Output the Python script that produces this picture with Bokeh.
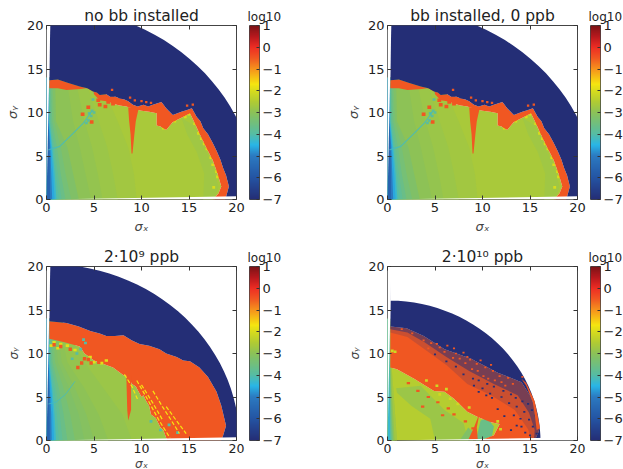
from bokeh.plotting import figure
from bokeh.models import LinearColorMapper, FixedTicker, LinearAxis, Range1d
from bokeh.layouts import column, row
from bokeh.embed import file_html
from bokeh.resources import INLINE
import numpy as np

# colour scale (log10 value -> colour)
SCALE_V = [-7, -6, -5, -4.5, -4, -3, -2.5, -2, -1.7, -1, -0.5, 0, 0.5, 1]
SCALE_R = [36, 36, 44, 41, 86, 140, 178, 216, 246, 247, 241, 238, 185, 123]
SCALE_G = [46, 85, 123, 182, 189, 194, 204, 220, 230, 148, 90, 46, 25, 20]
SCALE_B = [118, 164, 194, 232, 165, 88, 51, 30, 16, 29, 34, 36, 30, 22]
TICKS = [-7, -6, -5, -4, -3, -2, -1, 0, 1]
TITLES = ["no bb installed", "bb installed, 0 ppb", "2·10⁹ ppb", "2·10¹⁰ ppb"]
AXIS_TICKS = [0, 5, 10, 15, 20]
V_NAVY, V_ORANGE = -7, -0.5

# outer radius of the scanned region
ARC_ANGLE = [89, 86, 83, 80, 77, 74, 71, 68, 65, 62, 59, 56, 53, 50, 47, 44, 41, 38, 35, 32, 29, 26, 23, 20, 17, 14, 11, 8, 5, 2, 1]
R_ABOVE = 22.1
R_2E9 = 20.3
R_2E10 = 16.1

# green -> level contours: x position at heights CONT_Y
CONT_Y = [0, 3, 6, 9, 14]
P1_LEVELS = [-2.7, -2.8, -2.9, -3.0, -3.2, -3.4, -3.6, -3.8, -4.0, -4.3, -4.6, -5.0, -5.6]
P1_CONT = [
    [9.5, 9.2, 8.6, 7.5, 5.5],
    [7.5, 7.0, 6.4, 5.5, 4.0],
    [5.9, 5.4, 4.8, 4.0, 3.0],
    [4.7, 4.1, 3.5, 2.8, 2.1],
    [3.4, 2.8, 2.2, 1.0, 0.9],
    [2.6, 2.0, 1.5, 0.8, 0.6],
    [2.0, 1.5, 1.1, 0.6, 0.45],
    [1.6, 1.2, 0.85, 0.45, 0.35],
    [1.3, 1.0, 0.7, 0.35, 0.3],
    [1.05, 0.85, 0.6, 0.3, 0.25],
    [0.85, 0.7, 0.5, 0.25, 0.2],
    [0.6, 0.5, 0.4, 0.2, 0.2],
    [0.38, 0.35, 0.3, 0.2, 0.2],
]
P3_LEVELS = [-2.9, -3.0, -3.1, -3.2, -3.4, -3.6, -3.8, -4.0, -4.3, -4.6, -5.0, -5.6]
P3_CONT = [
    [9.0, 8.0, 6.0, 4.0, 1.5],
    [6.5, 5.5, 4.0, 2.2, 1.2],
    [5.0, 4.2, 3.0, 1.6, 1.0],
    [4.0, 3.4, 2.4, 1.2, 0.8],
    [3.0, 2.5, 1.8, 0.9, 0.6],
    [2.2, 1.8, 1.3, 0.65, 0.45],
    [1.7, 1.4, 1.0, 0.5, 0.35],
    [1.3, 1.1, 0.8, 0.4, 0.3],
    [1.0, 0.85, 0.6, 0.3, 0.25],
    [0.8, 0.7, 0.5, 0.25, 0.2],
    [0.55, 0.5, 0.35, 0.2, 0.2],
    [0.35, 0.32, 0.25, 0.2, 0.2],
]
P4_LEVELS = [-2.7, -3.0, -3.4, -3.8, -4.3]
P4_CONT = [
    [1.0, 0.8, 0.6, 0.4, 0.3],
    [0.75, 0.6, 0.45, 0.35, 0.25],
    [0.6, 0.45, 0.35, 0.3, 0.2],
    [0.45, 0.35, 0.3, 0.25, 0.2],
    [0.3, 0.25, 0.2, 0.2, 0.2],
]

# region boundaries, panels 1 & 2 (left to right)
P1_ORANGE_X = [0.3, 1.2, 2.3, 2.9, 3.5, 4.3, 4.9, 5.3, 5.6, 6.3, 6.7, 7.3, 7.7, 8.2, 8.6, 9.1, 9.6, 10.2, 10.7, 11.2, 12.1, 12.6, 13.3, 14.2, 14.8, 15.3, 15.8, 16.2, 16.5, 17.0, 17.5, 17.9, 18.3, 18.6, 18.9, 19.2, 18.9, 18.8]
P1_ORANGE_Y = [13.7, 13.8, 13.4, 13.2, 13.0, 12.8, 12.4, 12.3, 12.0, 12.1, 11.8, 11.8, 11.6, 11.5, 11.3, 10.9, 10.7, 10.9, 10.7, 10.9, 11.2, 10.5, 9.7, 10.1, 10.3, 10.5, 9.5, 9.0, 8.2, 7.5, 6.5, 5.6, 4.6, 3.6, 2.8, 1.5, 0.3, 0]
P1_GREEN_X = [0.3, 1.2, 2.1, 3.6, 4.9, 5.0, 5.6, 6.3, 7.0, 7.7, 8.4, 9.2, 10.0, 10.8, 11.6, 11.6, 12.0, 12.6, 13.3, 14.2, 15.1, 15.6, 16.1, 16.8, 17.5, 18.0, 18.4, 18.1, 17.5]
P1_GREEN_Y = [12.8, 12.8, 12.6, 12.7, 12.9, 12.1, 11.4, 11.3, 11.0, 10.8, 10.7, 10.4, 10.2, 10.1, 9.9, 8.5, 8.4, 8.0, 8.9, 9.4, 9.9, 8.8, 7.6, 6.0, 4.5, 3.0, 1.5, 0.7, 0]
P1_BAND_X = [14.2, 15.5, 16.6, 17.5, 18.1, 17.7, 16.5, 16.6, 15.8, 14.8]
P1_BAND_Y = [9.4, 8.5, 6.0, 4.0, 1.5, 0, 0, 3.0, 5.5, 7.5]
P1_SPIKE_X = [8.6, 9.7, 9.4, 9.25, 9.05, 8.95, 8.85, 8.7]
P1_SPIKE_Y = [10.6, 10.5, 9.0, 7.5, 5.3, 5.3, 7.5, 9.0]
P1_ORANGE_SPOT_X = [4.4, 3.8, 4.75, 5.6, 5.45, 6.5, 6.9, 7.7, 7.0, 6.2]
P1_ORANGE_SPOT_Y = [10.6, 9.8, 8.9, 10.9, 11.4, 11.2, 12.0, 11.4, 11.0, 10.7]
P1_TEAL_SPOT_X = [4.8, 5.0, 4.7, 4.4, 4.9, 5.1, 4.5, 4.2]
P1_TEAL_SPOT_Y = [10.2, 10.0, 9.6, 9.1, 11.5, 12.3, 9.9, 8.8]
P1_YELLOW_X = [14.6, 15.6, 16.3, 16.9, 17.5, 18.0, 17.6, 12.3, 13.5, 15.0, 16.0, 16.6, 17.3, 17.9]
P1_YELLOW_Y = [9.5, 8.7, 7.0, 5.8, 4.0, 2.6, 1.4, 8.2, 9.0, 9.8, 7.6, 6.4, 4.8, 3.2]
P1_ORANGE_IN_NAVY_X = [6.9, 8.8, 9.3, 10.0, 14.8, 15.4, 11.0, 10.5]
P1_ORANGE_IN_NAVY_Y = [12.6, 11.7, 11.4, 11.3, 10.8, 10.9, 11.1, 11.2]
P1_LINE_X = [0.2, 1.4, 2.8, 3.9, 4.75]
P1_LINE_Y = [5.7, 6.1, 7.6, 8.8, 10.1]

# panel 3
P3_ORANGE_X = [0.3, 2.1, 3.4, 4.6, 5.6, 6.3, 7.2, 8.1, 9.0, 9.8, 10.8, 11.9, 12.6, 13.7, 14.4, 15.1, 16.1, 17.0, 17.9, 18.4, 18.9, 18.6, 18.4]
P3_ORANGE_Y = [13.7, 13.5, 13.1, 12.6, 12.3, 12.0, 12.0, 12.1, 11.5, 11.1, 10.9, 10.5, 10.0, 9.6, 9.2, 9.1, 8.4, 7.3, 5.6, 4.0, 1.7, 0.6, 0]
P3_GREEN_X = [0.3, 1.9, 3.5, 4.0, 5.0, 7.0, 8.1, 8.5, 9.0, 9.4, 10.0, 10.2, 10.5, 10.8, 11.0, 11.5, 12.0, 12.3, 12.7]
P3_GREEN_Y = [11.7, 11.3, 10.8, 10.0, 9.2, 8.4, 7.5, 7.4, 6.5, 6.2, 5.0, 5.2, 4.5, 4.0, 3.0, 2.6, 1.5, 1.2, 0]
P3_SPIKE_X = [8.4, 8.9, 8.9, 8.6, 8.5]
P3_SPIKE_Y = [7.5, 7.5, 3.5, 2.3, 3.5]
P3_ORANGE_SPOT_X = [3.3, 3.7, 4.0, 4.4, 5.2, 5.5, 4.7, 6.1, 0.8, 1.5, 2.5]
P3_ORANGE_SPOT_Y = [8.4, 8.9, 9.4, 9.3, 9.5, 9.0, 8.9, 9.7, 11.0, 10.8, 10.5]
P3_YEL_SPOT_X = [0.8, 1.5, 0.5, 2.2, 1.2, 3.0, 4.6, 5.0, 5.8, 6.3]
P3_YEL_SPOT_Y = [11.3, 11.1, 10.9, 10.9, 10.6, 10.4, 9.6, 9.0, 8.9, 9.2]
P3_YELLOW_X = [[9.5, 10.6, 11.8, 13.0], [11.2, 12.2, 13.2, 14.0], [12.6, 13.6, 14.7], [8.2, 9.0, 9.6], [10.0, 11.2, 12.2]]
P3_YELLOW_Y = [[6.9, 4.8, 2.4, 0.3], [5.7, 3.9, 2.2, 0.8], [3.9, 2.4, 0.8], [7.6, 6.2, 4.7], [6.4, 4.3, 2.4]]
P3_TEAL_SPOT_X = [3.9, 4.1, 3.6, 3.2, 2.7, 6.0, 11.0, 12.0, 12.9, 13.8]
P3_TEAL_SPOT_Y = [11.6, 11.2, 10.5, 10.0, 9.4, 12.4, 2.2, 1.2, 1.8, 0.9]
P3_LINE_X = [0.2, 1.0, 2.0, 3.0]
P3_LINE_Y = [4.2, 4.4, 5.3, 6.8]

# panel 4
P4_ORANGE_X = [0.3, 2.0, 3.8, 6.0, 8.8, 11.6, 14.1, 15.1, 15.8, 16.0, 15.9, 15.5]
P4_ORANGE_Y = [13.1, 12.9, 12.0, 10.5, 9.4, 7.8, 6.7, 5.0, 2.8, 1.4, 1.0, 0]
P4_MID_X = [0.3, 2.1, 3.9, 6.2, 8.6, 11.2, 13.7, 14.9, 15.5, 15.4]
P4_MID_Y = [12.8, 12.4, 11.3, 9.6, 8.0, 6.5, 5.2, 3.2, 1.2, 0]
P4_SOLID_X = [0.3, 2.1, 3.9, 6.3, 8.4, 10.9, 13.4, 14.8, 15.2]
P4_SOLID_Y = [12.4, 11.9, 10.5, 8.6, 6.5, 5.2, 3.5, 1.3, 0]
P4_GREEN_X = [0.3, 1.0, 2.8, 4.9, 6.0, 7.0, 8.4, 9.5, 10.9, 11.8, 11.2, 9.8]
P4_GREEN_Y = [8.4, 8.2, 7.1, 5.7, 5.6, 4.8, 3.3, 2.7, 2.1, 1.9, 0.6, 0]
P4_GREENER_X = [0.9, 3.5, 6.0, 8.0, 8.5, 5.0, 4.5, 2.5, 1.0]
P4_GREENER_Y = [6.0, 6.3, 3.5, 2.0, 0, 0, 2.5, 4.0, 5.5]
P4_TEAL2_X = [7.6, 8.5, 9.0, 9.0, 8.2]
P4_TEAL2_Y = [0, 1.5, 1.0, 0, 0]
P4_TEAL_X = [9.3, 9.8, 10.5, 11.2, 11.0, 9.7]
P4_TEAL_Y = [0, 2.3, 2.6, 1.6, 0.5, 0]
P4_NOTCH_X = [8.5, 9.1, 9.7, 9.4, 9.5, 8.9]
P4_NOTCH_Y = [0.1, 1.5, 3.2, 1.5, 0.1, 0.1]
P4_YEL_SPOT_X = [0.5, 0.8, 6.2, 5.2, 4.1, 5.5, 6.6, 7.4, 8.6, 11.6, 11.9]
P4_YEL_SPOT_Y = [10.3, 10.2, 5.9, 6.3, 6.9, 5.3, 4.8, 4.2, 3.8, 2.2, 1.3]
P4_ORG_SPOT_X = [3.2, 4.3, 5.3, 6.4, 2.2, 7.0, 8.2, 9.0, 3.7, 5.8]
P4_ORG_SPOT_Y = [5.7, 5.0, 4.4, 3.7, 6.6, 3.0, 2.2, 1.4, 3.9, 2.9]
P4_NAVY_SPOT_X = [5.0, 6.2, 7.2, 8.0, 9.0, 9.6, 10.5, 11.2, 12.2, 13.0, 13.5, 14.2, 14.8, 15.2, 15.6, 12.0, 12.8, 13.6, 14.4, 14.0, 13.3, 14.9, 15.3, 15.7, 13.6, 13.0, 12.3, 11.6, 10.8, 10.0, 9.1, 11.0, 10.4, 9.6, 14.5, 15.0, 14.1]
P4_NAVY_SPOT_Y = [9.9, 9.1, 8.5, 7.6, 7.1, 6.9, 6.5, 6.2, 5.7, 5.3, 4.9, 4.5, 4.2, 3.5, 2.9, 5.0, 4.3, 3.9, 3.3, 2.5, 2.9, 2.4, 1.6, 0.8, 1.7, 1.2, 2.8, 3.6, 5.4, 6.0, 6.3, 4.9, 5.2, 5.6, 0.9, 0.6, 1.6]
P4_ORG_ON_NAVY_X = [1.5, 2.6, 3.8, 4.6, 5.5, 6.0, 6.9, 7.6, 8.2, 8.9, 9.5, 10.1, 10.6, 11.3, 12.0, 12.4, 4.3, 5.2, 6.3, 7.2, 8.0, 8.7, 9.4, 10.3, 11.1, 11.8, 12.7, 13.2, 14.2, 7.0, 8.4, 9.8, 10.9]
P4_ORG_ON_NAVY_Y = [12.8, 12.3, 11.5, 11.2, 10.7, 10.2, 9.5, 9.4, 8.9, 8.2, 8.0, 7.4, 7.1, 6.9, 6.7, 6.3, 10.6, 11.1, 10.9, 10.0, 10.1, 9.3, 8.8, 8.4, 8.0, 7.4, 7.2, 6.5, 7.3, 10.6, 9.6, 9.2, 8.7]
P4_RIM_X = [14.1, 14.6, 15.5, 16.05, 15.7, 15.5, 15.3, 14.6]
P4_RIM_Y = [7.1, 6.6, 4.5, 1.4, 1.2, 3.0, 4.4, 6.3]

SCALE_GRID = np.linspace(-7, 1, 256)
MAPPER = LinearColorMapper(
    palette=["#%02x%02x%02x" % (int(r), int(g), int(b)) for r, g, b in zip(
        np.interp(SCALE_GRID, SCALE_V, SCALE_R),
        np.interp(SCALE_GRID, SCALE_V, SCALE_G),
        np.interp(SCALE_GRID, SCALE_V, SCALE_B))],
    low=-7, high=1)


def colour(v):
    return MAPPER.palette[min(255, int((v + 7) / 8 * 256))]


def poly(p, xs, ys, v, alpha=1.0):
    p.patch(list(xs), list(ys), fill_color=colour(v), line_color=None, fill_alpha=alpha)


def spots(p, xs, ys, v, w=0.3, h=0.3):
    p.rect(xs, ys, width=w, height=h, fill_color=colour(v), line_color=None)


def gradient(p, levels, cont, green_x, green_y, base):
    poly(p, [0] + green_x + [0], [0] + green_y + [0], base)
    for v, c in zip(levels, cont):
        poly(p, [0] + c + [0], [0] + CONT_Y + [14], v)


def ring(p, outer_x, outer_y, inner_x, inner_y, v, alpha=1.0):
    poly(p, outer_x + inner_x[::-1], outer_y + inner_y[::-1], v, alpha)


def outer(p, radius, edge_x, edge_y):
    a = np.radians(ARC_ANGLE)
    poly(p, [edge_x[0]] + list(radius * np.cos(a)) + edge_x[::-1],
         [20] + list(radius * np.sin(a)) + edge_y[::-1], V_NAVY)


def mask(p):
    p.patch([0, 22, 22], [0, 0, 0.4], fill_color="white", line_color=None)
    p.patch([0, 0, 0.4], [0, 20, 20], fill_color="white", line_color=None)


def panel(title, top, bottom, left, tick_size, label_size, line_h):
    p = figure(frame_width=190, frame_height=174, output_backend="svg", toolbar_location=None,
               x_range=Range1d(0, 20), y_range=Range1d(0, 20),
               min_border_left=left, min_border_right=12, min_border_top=top, min_border_bottom=bottom,
               x_axis_label="σₓ", y_axis_label="σᵧ", title=title)
    p.title.align = "center"
    p.title.text_font = "DejaVu Sans"
    p.title.text_font_size = "15.5px"
    p.title.text_font_style = "normal"
    p.title.text_color = "#222222"
    p.title.standoff = 2
    p.grid.visible = False
    p.outline_line_color = "#444444"
    p.outline_line_width = 1
    for ax in [p.xaxis[0], p.yaxis[0]]:
        ax.ticker = FixedTicker(ticks=AXIS_TICKS)
        ax.major_label_text_font = "DejaVu Sans"
        ax.major_label_text_font_size = tick_size
        ax.major_label_text_color = "#222222"
        ax.major_label_standoff = 3
        ax.major_tick_in = 4
        ax.major_tick_out = 0
        ax.minor_tick_line_color = None
        ax.axis_line_color = None
        ax.major_tick_line_color = "#333333"
        ax.axis_label_text_font = "DejaVu Sans"
        ax.axis_label_text_font_size = label_size
        ax.axis_label_text_font_style = "italic"
        ax.axis_label_text_color = "#444444"
        ax.axis_label_standoff = 4
    p.xaxis[0].major_label_text_line_height = line_h
    p.xaxis[0].axis_label_text_line_height = line_h
    p.xaxis[0].axis_label_standoff = 1 if line_h < 1 else 4
    p.yaxis[0].major_label_orientation = "horizontal"
    for loc in ["above", "right"]:
        ax = LinearAxis(ticker=FixedTicker(ticks=AXIS_TICKS), major_label_text_color=None,
                        major_tick_in=4, major_tick_out=0, minor_tick_line_color=None,
                        axis_line_color=None, major_tick_line_color="#333333", major_label_text_font_size="0px")
        p.add_layout(ax, loc)
    return p


def colour_bar(top, bottom, right):
    b = figure(frame_width=10, frame_height=174, output_backend="svg", toolbar_location=None,
               x_range=Range1d(0, 1), y_range=Range1d(-7, 1), min_border_left=1, min_border_right=right,
               min_border_top=top, min_border_bottom=bottom, title="log10",
               x_axis_location=None, y_axis_location="right")
    b.title.align = "left"
    b.title.offset = -2
    b.title.text_font = "DejaVu Sans"
    b.title.text_font_size = "12px"
    b.title.text_font_style = "normal"
    b.title.text_color = "#222222"
    b.title.standoff = 3
    b.grid.visible = False
    b.outline_line_color = "#444444"
    b.image(image=[SCALE_GRID.reshape(-1, 1)], x=0, y=-7, dw=1, dh=8, color_mapper=MAPPER)
    ax = b.yaxis[0]
    ax.ticker = FixedTicker(ticks=TICKS)
    ax.major_label_overrides = {t: str(t).replace("-", "−") for t in TICKS}
    ax.major_label_text_font = "DejaVu Sans"
    ax.major_label_text_font_size = "13px"
    ax.major_label_text_color = "#222222"
    ax.major_label_standoff = 3
    ax.major_label_orientation = "horizontal"
    ax.major_tick_in = 3
    ax.major_tick_out = 0
    ax.minor_tick_line_color = None
    ax.axis_line_color = None
    ax.major_tick_line_color = "#333333"
    return b


def draw_no_bb(p):
    gradient(p, P1_LEVELS, P1_CONT, P1_GREEN_X, P1_GREEN_Y, -2.6)
    poly(p, P1_BAND_X, P1_BAND_Y, -2.75)
    spots(p, P1_YELLOW_X, P1_YELLOW_Y, -2.0, 0.3, 0.3)
    poly(p, P1_SPIKE_X, P1_SPIKE_Y, V_ORANGE)
    spots(p, P1_ORANGE_SPOT_X, P1_ORANGE_SPOT_Y, V_ORANGE, 0.4, 0.4)
    spots(p, P1_TEAL_SPOT_X, P1_TEAL_SPOT_Y, -3.9)
    p.line(P1_LINE_X, P1_LINE_Y, line_color=colour(-4.2), line_width=1.2, line_alpha=0.8)
    ring(p, P1_ORANGE_X, P1_ORANGE_Y, P1_GREEN_X, P1_GREEN_Y, V_ORANGE)
    outer(p, R_ABOVE, P1_ORANGE_X, P1_ORANGE_Y)
    spots(p, P1_ORANGE_IN_NAVY_X, P1_ORANGE_IN_NAVY_Y, V_ORANGE, 0.25, 0.25)
    mask(p)


def draw_2e9(p):
    gradient(p, P3_LEVELS, P3_CONT, P3_GREEN_X, P3_GREEN_Y, -2.8)
    ring(p, P3_ORANGE_X, P3_ORANGE_Y, P3_GREEN_X, P3_GREEN_Y, V_ORANGE)
    poly(p, P3_SPIKE_X, P3_SPIKE_Y, V_ORANGE)
    spots(p, P3_YEL_SPOT_X, P3_YEL_SPOT_Y, -1.9, 0.35, 0.3)
    spots(p, P3_ORANGE_SPOT_X, P3_ORANGE_SPOT_Y, V_ORANGE, 0.35, 0.4)
    spots(p, P3_TEAL_SPOT_X, P3_TEAL_SPOT_Y, -4.0)
    for xs, ys in zip(P3_YELLOW_X, P3_YELLOW_Y):
        p.line(xs, ys, line_color=colour(-1.7), line_width=1.2, line_dash="4 2")
    p.line(P3_LINE_X, P3_LINE_Y, line_color=colour(-4.2), line_width=1, line_alpha=0.8)
    outer(p, R_2E9, P3_ORANGE_X, P3_ORANGE_Y)
    mask(p)


def draw_2e10(p):
    gradient(p, P4_LEVELS, P4_CONT, P4_GREEN_X, P4_GREEN_Y, -2.45)
    poly(p, P4_GREENER_X, P4_GREENER_Y, -2.8)
    for v, c in zip(P4_LEVELS, P4_CONT):
        poly(p, [0] + c + [0], [0] + CONT_Y + [14], v)
    poly(p, P4_TEAL2_X, P4_TEAL2_Y, -3.2)
    poly(p, P4_TEAL_X, P4_TEAL_Y, -3.6)
    poly(p, P4_NOTCH_X, P4_NOTCH_Y, V_ORANGE)
    spots(p, P4_ORG_SPOT_X, P4_ORG_SPOT_Y, V_ORANGE, 0.35, 0.25)
    ring(p, P4_ORANGE_X, P4_ORANGE_Y, P4_GREEN_X, P4_GREEN_Y, V_ORANGE)
    ring(p, P4_ORANGE_X, P4_ORANGE_Y, P4_SOLID_X, P4_SOLID_Y, V_NAVY, 0.18)
    ring(p, P4_ORANGE_X, P4_ORANGE_Y, P4_MID_X, P4_MID_Y, V_NAVY, 0.5)
    outer(p, R_2E10, P4_ORANGE_X, P4_ORANGE_Y)
    spots(p, P4_NAVY_SPOT_X, P4_NAVY_SPOT_Y, -7, 0.22, 0.2)
    spots(p, P4_ORG_ON_NAVY_X, P4_ORG_ON_NAVY_Y, V_ORANGE, 0.22, 0.2)
    poly(p, P4_RIM_X, P4_RIM_Y, V_ORANGE)
    spots(p, P4_YEL_SPOT_X, P4_YEL_SPOT_Y, -2.1, 0.3, 0.3)
    mask(p)


p1 = panel(TITLES[0], 25, 32, 46, "13px", "13px", 1.2)
p2 = panel(TITLES[1], 25, 32, 103, "13px", "13px", 1.2)
p3 = panel(TITLES[2], 30, 28, 46, "12.5px", "12px", 0.9)
p4 = panel(TITLES[3], 30, 28, 103, "12.5px", "12px", 0.9)
draw_no_bb(p1)
draw_no_bb(p2)
draw_2e9(p3)
draw_2e10(p4)

page = column(row(p1, colour_bar(25, 32, 24), p2, colour_bar(25, 32, 23), spacing=0),
              row(p3, colour_bar(30, 28, 24), p4, colour_bar(30, 28, 23), spacing=0), spacing=0)
open("out.html", "w").write(file_html(page, INLINE))
